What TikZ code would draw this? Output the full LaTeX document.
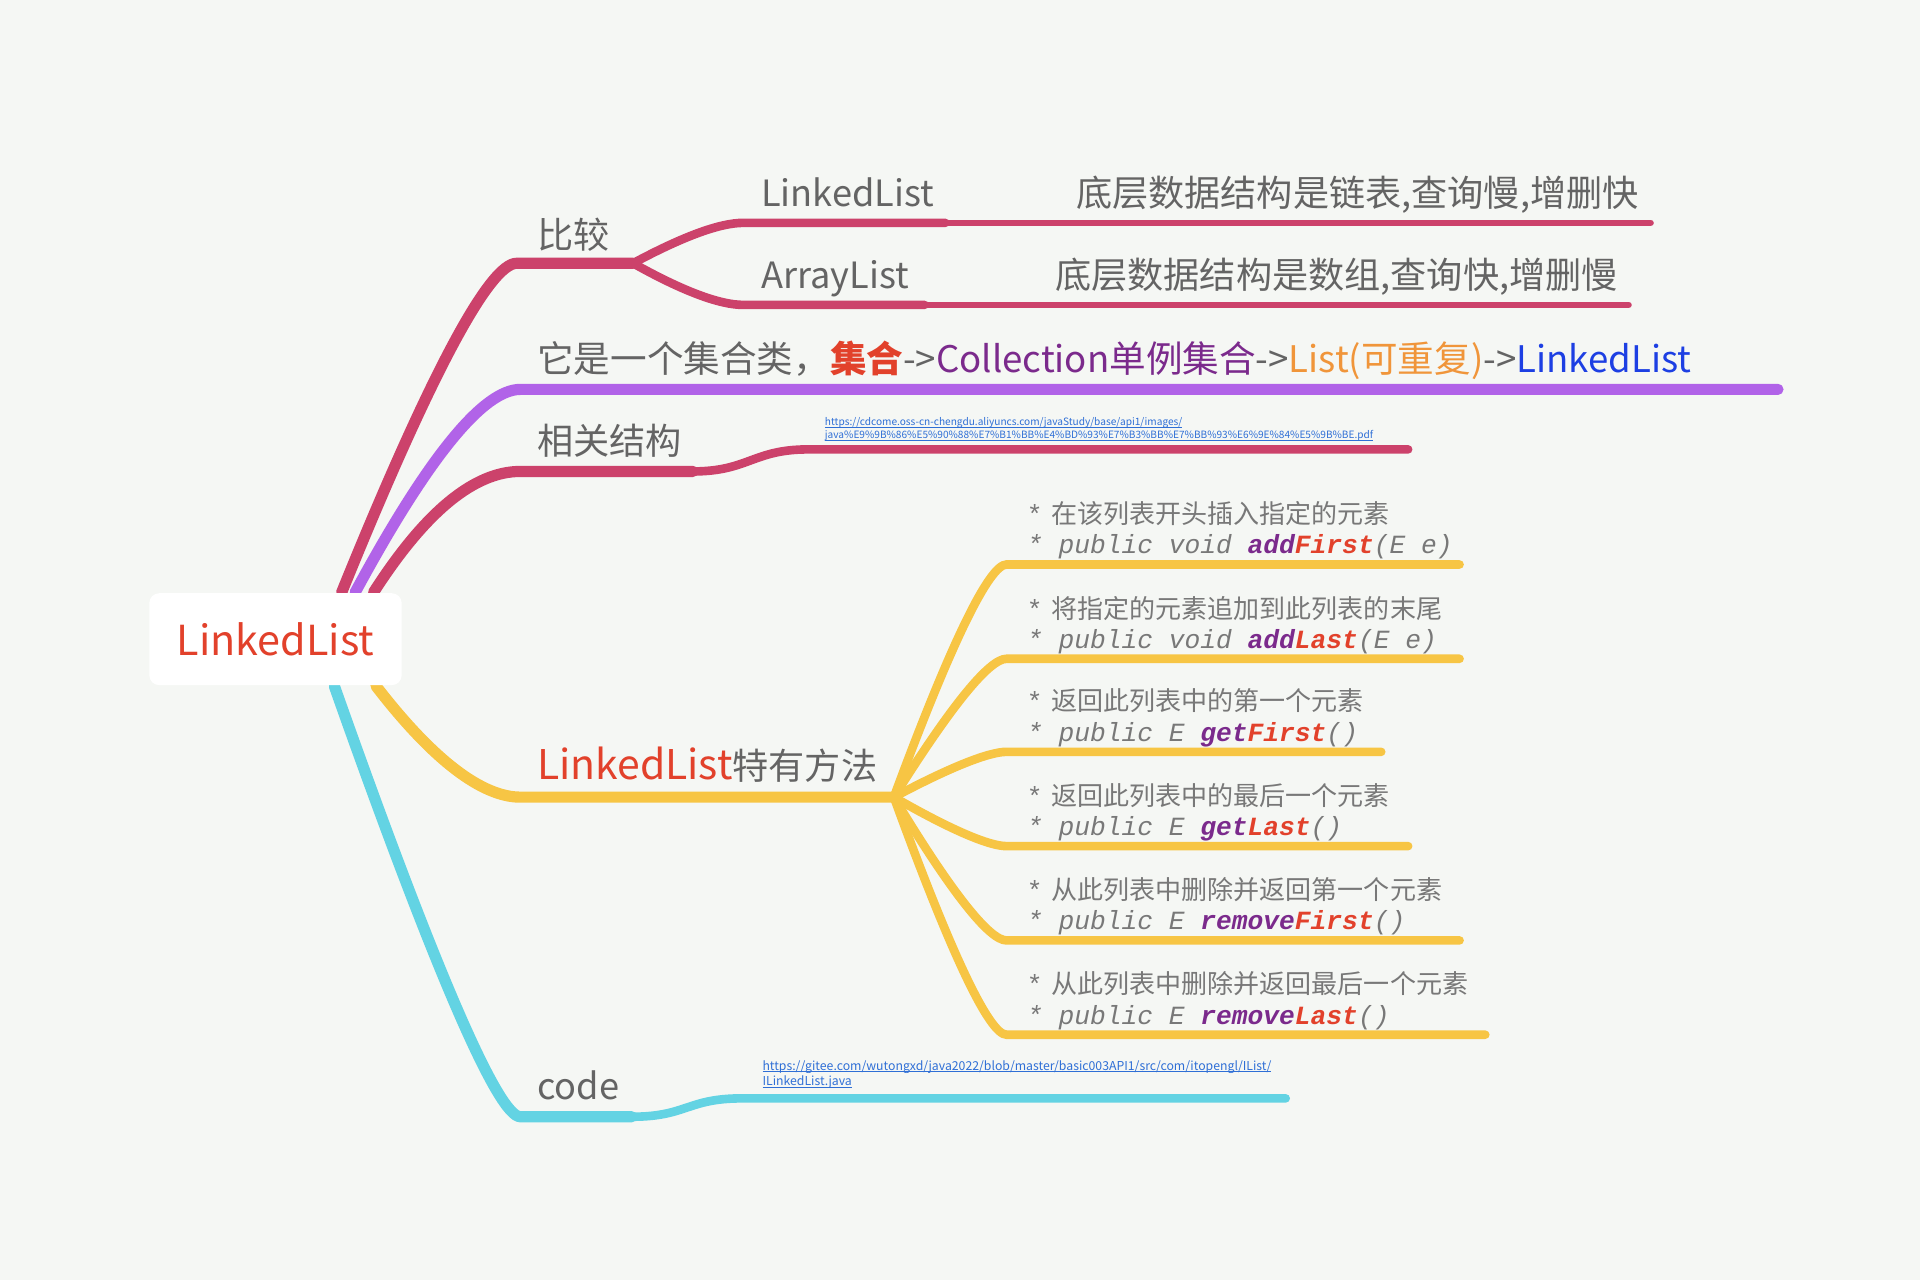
\documentclass[tikz,border=0pt]{standalone}
\usepackage{fontspec}
\setmainfont{Noto Sans CJK SC}
\newfontfamily\javafont{Liberation Mono}
\usepackage{tikz}
\usetikzlibrary{positioning}
\definecolor{mapbg}{HTML}{F5F7F4}
\definecolor{mapink}{HTML}{646464}
\definecolor{mapred}{HTML}{E2412B}
\definecolor{rose}{HTML}{CC426B}
\definecolor{lilac}{HTML}{B163E8}
\definecolor{amber}{HTML}{F7C544}
\definecolor{aqua}{HTML}{63D3E3}
\definecolor{plum}{HTML}{7B2A8C}
\definecolor{tangerine}{HTML}{F0953A}
\definecolor{royal}{HTML}{1D3FE3}
\definecolor{linkblue}{HTML}{2F6FD6}
\definecolor{codegray}{HTML}{787878}
\newcommand{\linkline}[1]{\setbox0\hbox{#1}\rlap{\rule[-0.4pt]{\wd0}{0.14pt}}\box0}
\newcommand{\starmark}{{\javafont\fontsize{6.1}{7}\selectfont *}\hspace{2pt}}
\pgfdeclarelayer{lines}
\pgfsetlayers{lines,main}

\begin{document}
\begin{tikzpicture}[
        x=0.01cm, y=-0.01cm,
        rootbox/.style={fill=white, rounded corners=2.3pt, minimum width=2.06cm, minimum height=0.75cm, inner sep=0pt, text=mapred, font=\fontsize{9.6}{11}\selectfont},
        topic/.style={anchor=base west, inner sep=0pt, text=mapink, font=\fontsize{8.4}{10}\selectfont},
        method/.style={anchor=south west, inner sep=0pt, align=left, text=codegray, font=\fontsize{6.05}{7}\selectfont},
        weblink/.style={anchor=south west, inner sep=0pt, align=left, text=linkblue},
        branch/.style={line width=2.6pt, line cap=round},
        twig/.style={line width=2pt, line cap=round},
        leaf/.style={line width=1.5pt, line cap=round}
    ]
    \useasboundingbox (0,0) rectangle (1568,1045);
    \node (root) [rootbox] at (225,522) {LinkedList};

    % where the branches leave the root
    \coordinate (bj0) at ([xshift=0.54cm]root.north);
    \coordinate (jh0) at ([xshift=0.65cm]root.north);
    \coordinate (xg0) at ([xshift=0.80cm]root.north);
    \coordinate (tx0) at ([xshift=0.82cm]root.south);
    \coordinate (cd0) at ([xshift=0.48cm]root.south);

    \coordinate (bj1) at (422,215);
    \coordinate (bj2) at (517,215);
    \coordinate (lk1) at (607,182);
    \coordinate (lk2) at (772,182);
    \coordinate (lk3) at (1348,182);
    \coordinate (al1) at (607,249);
    \coordinate (al2) at (755,249);
    \coordinate (al3) at (1330,249);
    \coordinate (jh1) at (425,318);
    \coordinate (jh2) at (1452,318);
    \coordinate (xg1) at (425,385);
    \coordinate (xg2) at (566,385);
    \coordinate (xg3) at (660,367);
    \coordinate (xg4) at (1150,367);
    \coordinate (tx1) at (425,651);
    \coordinate (tx2) at (730,651);
    \coordinate (cd1) at (425,912);
    \coordinate (cd2) at (516,912);
    \coordinate (cd3) at (606,897);
    \coordinate (cd4) at (1050,897);
    \coordinate (m1) at (822,461);
    \coordinate (m2) at (822,538);
    \coordinate (m3) at (822,614);
    \coordinate (m4) at (822,691);
    \coordinate (m5) at (822,768);
    \coordinate (m6) at (822,845);
    \coordinate (e1) at (1192,461);
    \coordinate (e2) at (1192,538);
    \coordinate (e3) at (1128,614);
    \coordinate (e4) at (1150,691);
    \coordinate (e5) at (1192,768);
    \coordinate (e6) at (1213,845);

    \begin{pgfonlayer}{lines}
    \fill[mapbg] (0,0) rectangle (1568,1045);
    % 比较
    \draw[branch, rose] (bj0) .. controls +(73,-180) and +(-22,0) .. (bj1) -- (bj2);
    \draw[twig, rose] (bj2) .. controls +(41,-22) and +(-19,0) .. (lk1) -- (lk2);
    \draw[leaf, rose] (lk2) -- (lk3);
    \draw[twig, rose] (bj2) .. controls +(41,23) and +(-19,0) .. (al1) -- (al2);
    \draw[leaf, rose] (al2) -- (al3);
    % 集合
    \draw[branch, lilac] (jh0) .. controls +(60,-111) and +(-30,0) .. (jh1) -- (jh2);
    % 相关结构
    \draw[branch, rose] (xg0) .. controls +(43,-67) and +(-37,0) .. (xg1) -- (xg2);
    \draw[twig, rose] (xg2) .. controls +(45,0) and +(-45,0) .. (xg3) -- (xg4);
    % 特有方法
    \draw[branch, amber] (tx0) .. controls +(47,61) and +(-31,0) .. (tx1) -- (tx2);
    \draw[twig, amber] (tx2) .. controls +(47,-127) and +(-14,0) .. (m1) -- (e1);
    \draw[twig, amber] (tx2) .. controls +(47,-75) and +(-14,0) .. (m2) -- (e2);
    \draw[twig, amber] (tx2) .. controls +(47,-25) and +(-14,0) .. (m3) -- (e3);
    \draw[twig, amber] (tx2) .. controls +(47,27) and +(-14,0) .. (m4) -- (e4);
    \draw[twig, amber] (tx2) .. controls +(47,78) and +(-14,0) .. (m5) -- (e5);
    \draw[twig, amber] (tx2) .. controls +(47,129) and +(-14,0) .. (m6) -- (e6);
    % code
    \draw[branch, aqua] (cd0) .. controls +(83,235) and +(-18,0) .. (cd1) -- (cd2);
    \draw[twig, aqua] (cd2) .. controls +(45,0) and +(-45,0) .. (cd3) -- (cd4);
    \end{pgfonlayer}

    \node (bijiao) [topic] at ([xshift=1.6mm, yshift=1.2mm]bj1) {比较};
    \node (linked) [topic] at ([xshift=1.4mm, yshift=1.3mm]lk1) {LinkedList};
    \node (linkednote) [topic] at ([xshift=10.6mm, yshift=1.3mm]lk2) {底层数据结构是链表,查询慢,增删快};
    \node (array) [topic] at ([xshift=1.4mm, yshift=1.3mm]al1) {ArrayList};
    \node (arraynote) [topic] at ([xshift=10.6mm, yshift=1.3mm]al2) {底层数据结构是数组,查询快,增删慢};
    \node (jihe) [topic, font=\fontsize{8.5}{10}\selectfont] at ([xshift=1.3mm, yshift=1.4mm]jh1) {它是一个集合类，{\color{mapred}\bfseries 集合}->{\color{plum}Collection单例集合}->{\color{tangerine}List(可重复)}->{\color{royal}LinkedList}};
    \node (xiangguan) [topic] at ([xshift=1.3mm, yshift=1.4mm]xg1) {相关结构};
    \node (url1) [weblink, font=\fontsize{2.35}{3.1}\selectfont] at ([xshift=1.3mm, yshift=0.6mm]xg3) {\linkline{https://cdcome.oss-cn-chengdu.aliyuncs.com/javaStudy/base/api1/images/}\\\linkline{java\%E9\%9B\%86\%E5\%90\%88\%E7\%B1\%BB\%E4\%BD\%93\%E7\%B3\%BB\%E7\%BB\%93\%E6\%9E\%84\%E5\%9B\%BE.pdf}};
    \node (texing) [topic] at ([xshift=1.3mm, yshift=1.4mm]tx1) {{\color{mapred}\fontsize{9.5}{10}\selectfont LinkedList}特有方法};
    \node (code) [topic] at ([xshift=1.3mm, yshift=1.4mm]cd1) {code};
    \node (url2) [weblink, font=\fontsize{2.85}{3.7}\selectfont] at ([xshift=1.6mm, yshift=0.7mm]cd3) {\linkline{https://gitee.com/wutongxd/java2022/blob/master/basic003API1/src/com/itopengl/IList/}\\\linkline{ILinkedList.java}};

    \node (addfirst) [method] at ([xshift=1.6mm, yshift=0.35mm]m1) {\starmark 在该列表开头插入指定的元素\\{\javafont\fontsize{6.1}{7}\selectfont\itshape * public void {\bfseries\color{plum}add\color{mapred}First}(E e)}};
    \node (addlast) [method] at ([xshift=1.6mm, yshift=0.35mm]m2) {\starmark 将指定的元素追加到此列表的末尾\\{\javafont\fontsize{6.1}{7}\selectfont\itshape * public void {\bfseries\color{plum}add\color{mapred}Last}(E e)}};
    \node (getfirst) [method] at ([xshift=1.6mm, yshift=0.35mm]m3) {\starmark 返回此列表中的第一个元素\\{\javafont\fontsize{6.1}{7}\selectfont\itshape * public E {\bfseries\color{plum}get\color{mapred}First}()}};
    \node (getlast) [method] at ([xshift=1.6mm, yshift=0.35mm]m4) {\starmark 返回此列表中的最后一个元素\\{\javafont\fontsize{6.1}{7}\selectfont\itshape * public E {\bfseries\color{plum}get\color{mapred}Last}()}};
    \node (removefirst) [method] at ([xshift=1.6mm, yshift=0.35mm]m5) {\starmark 从此列表中删除并返回第一个元素\\{\javafont\fontsize{6.1}{7}\selectfont\itshape * public E {\bfseries\color{plum}remove\color{mapred}First}()}};
    \node (removelast) [method] at ([xshift=1.6mm, yshift=0.35mm]m6) {\starmark 从此列表中删除并返回最后一个元素\\{\javafont\fontsize{6.1}{7}\selectfont\itshape * public E {\bfseries\color{plum}remove\color{mapred}Last}()}};
\end{tikzpicture}
\end{document}
